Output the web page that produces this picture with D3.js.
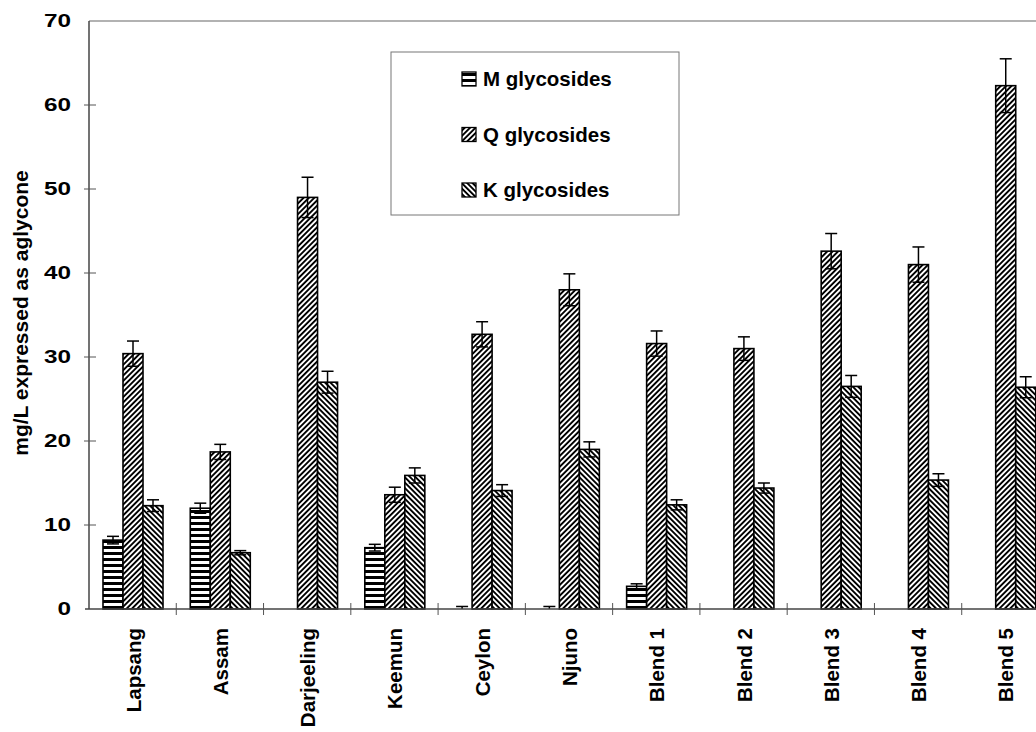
<!DOCTYPE html>
<html>
<head>
<meta charset="utf-8">
<script src="https://cdn.jsdelivr.net/npm/d3@7"></script>
<style>
  html, body { margin: 0; padding: 0; background: #fff; }
  svg { display: block; }
  text { font-family: "Liberation Sans", Arial, Helvetica, sans-serif; font-weight: bold; fill: #000; }
</style>
</head>
<body>
<svg id="chart" width="1036" height="732"></svg>
<script>
// ---- data ----
const categories = ["Lapsang", "Assam", "Darjeeling", "Keemun", "Ceylon", "Njuno",
                    "Blend 1", "Blend 2", "Blend 3", "Blend 4", "Blend 5"];
const seriesNames = ["M glycosides", "Q glycosides", "K glycosides"];
const mValues = [8.2, 12.0, 0, 7.3, 0, 0, 2.7, 0, 0, 0, 0];
const mErrors = [0.45, 0.6, 0, 0.4, 0.3, 0.3, 0.3, 0, 0, 0, 0];
const qValues = [30.4, 18.7, 49.0, 13.6, 32.7, 38.0, 31.6, 31.0, 42.6, 41.0, 62.3];
const qErrors = [1.5, 0.9, 2.4, 0.9, 1.5, 1.9, 1.5, 1.4, 2.1, 2.1, 3.2];
const kValues = [12.3, 6.7, 27.0, 15.9, 14.1, 19.0, 12.4, 14.4, 26.5, 15.35, 26.4];
const kErrors = [0.7, 0.25, 1.3, 0.9, 0.7, 0.9, 0.6, 0.6, 1.3, 0.75, 1.25];
const yTicks = [0, 10, 20, 30, 40, 50, 60, 70];
const yTitle = "mg/L expressed as aglycone";

const seriesValues = [mValues, qValues, kValues];
const seriesErrors = [mErrors, qErrors, kErrors];
const seriesPatterns = ["pat-m", "pat-q", "pat-k"];

// ---- layout ----
const svg = d3.select("#chart");
const pLeft = 89, pRight = 1049, pTop = 21, pBottom = 609;

const y = d3.scaleLinear().domain([0, 70]).range([pBottom, pTop]);
const x0 = d3.scaleBand().domain(categories).range([pLeft, pRight]).padding(0);
const x1 = d3.scaleBand().domain(seriesNames).range([14, 74]).padding(0);

// ---- patterns ----
const defs = svg.append("defs");
const pm = defs.append("pattern").attr("id", "pat-m").attr("patternUnits", "userSpaceOnUse")
  .attr("width", 8).attr("height", 6);
pm.append("rect").attr("width", 8).attr("height", 6).attr("fill", "#fff");
pm.append("rect").attr("y", 0).attr("width", 8).attr("height", 3).attr("fill", "#000");
const pq = defs.append("pattern").attr("id", "pat-q").attr("patternUnits", "userSpaceOnUse")
  .attr("width", 3.8).attr("height", 10).attr("patternTransform", "rotate(45)");
pq.append("rect").attr("width", 3.8).attr("height", 10).attr("fill", "#fff");
pq.append("rect").attr("width", 1.9).attr("height", 10).attr("fill", "#000");
const pk = defs.append("pattern").attr("id", "pat-k").attr("patternUnits", "userSpaceOnUse")
  .attr("width", 3.8).attr("height", 10).attr("patternTransform", "rotate(-45)");
pk.append("rect").attr("width", 3.8).attr("height", 10).attr("fill", "#fff");
pk.append("rect").attr("width", 1.9).attr("height", 10).attr("fill", "#000");

function stretch(sel, factor) {
  sel.each(function () {
    const len = this.getComputedTextLength();
    d3.select(this).attr("textLength", len * factor).attr("lengthAdjust", "spacingAndGlyphs");
  });
}

// ---- frame ----
svg.append("line").attr("x1", pLeft).attr("x2", pRight).attr("y1", pTop).attr("y2", pTop)
  .attr("stroke", "#666").attr("stroke-width", 1.2);

// ---- bars ----
const groups = svg.append("g").selectAll("g").data(categories).join("g")
  .attr("transform", d => `translate(${x0(d)},0)`);

seriesNames.forEach((s, si) => {
  groups.each(function (cat, ci) {
    const v = seriesValues[si][ci];
    if (v > 0) {
      d3.select(this).append("rect")
        .attr("x", x1(s)).attr("width", x1.bandwidth())
        .attr("y", y(v)).attr("height", y(0) - y(v))
        .attr("fill", `url(#${seriesPatterns[si]})`)
        .attr("stroke", "#000").attr("stroke-width", 1.6);
    }
  });
});

// ---- error bars ----
seriesNames.forEach((s, si) => {
  groups.each(function (cat, ci) {
    const v = seriesValues[si][ci], e = seriesErrors[si][ci];
    if (e <= 0) return;
    const cx = x1(s) + x1.bandwidth() / 2;
    const g = d3.select(this).append("g").attr("stroke", "#000").attr("stroke-width", 1.5);
    const lo = Math.max(0, v - e), hi = v + e;
    g.append("line").attr("x1", cx).attr("x2", cx).attr("y1", y(lo)).attr("y2", y(hi));
    g.append("line").attr("x1", cx - 6).attr("x2", cx + 6).attr("y1", y(hi)).attr("y2", y(hi));
    if (v - e > 0) g.append("line").attr("x1", cx - 6).attr("x2", cx + 6).attr("y1", y(lo)).attr("y2", y(lo));
  });
});

// ---- y axis ----
const yAxis = svg.append("g");
yAxis.append("line").attr("x1", pLeft).attr("x2", pLeft).attr("y1", pTop).attr("y2", pBottom)
  .attr("stroke", "#444").attr("stroke-width", 1.5);
yAxis.selectAll("line.tk").data(yTicks.filter(t => t > 0 && t < 70)).join("line").attr("class", "tk")
  .attr("x1", pLeft - 5).attr("x2", pLeft + 7).attr("y1", d => y(d)).attr("y2", d => y(d))
  .attr("stroke", "#555").attr("stroke-width", 1);
const yl = yAxis.selectAll("text").data(yTicks).join("text")
  .attr("x", 71).attr("y", d => y(d)).attr("dy", "0.36em")
  .attr("text-anchor", "end").style("font-size", "18px")
  .text(d => d);
stretch(yl, 1.35);

svg.append("text")
  .attr("transform", `translate(28,${(pBottom + pTop) / 2 - 2}) rotate(-90)`)
  .attr("text-anchor", "middle").style("font-size", "21px")
  .text(yTitle);

// ---- x axis ----
const xAxis = svg.append("g");
xAxis.append("line").attr("x1", pLeft - 4).attr("x2", pRight).attr("y1", pBottom).attr("y2", pBottom)
  .attr("stroke", "#444").attr("stroke-width", 1.5);
xAxis.selectAll("line.tk").data(categories.slice(1)).join("line").attr("class", "tk")
  .attr("x1", d => x0(d)).attr("x2", d => x0(d)).attr("y1", pBottom - 6).attr("y2", pBottom + 6)
  .attr("stroke", "#555").attr("stroke-width", 1);
xAxis.selectAll("text").data(categories).join("text")
  .attr("transform", d => `translate(${x0(d) + x0.bandwidth() / 2 + 8},628) rotate(-90)`)
  .attr("text-anchor", "end").style("font-size", "20.5px")
  .text(d => d);

// ---- legend ----
const legend = svg.append("g");
legend.append("rect").attr("x", 391).attr("y", 52).attr("width", 288).attr("height", 163)
  .attr("fill", "#fff").attr("stroke", "#777").attr("stroke-width", 1);
const li = legend.selectAll("g").data(seriesNames).join("g")
  .attr("transform", (d, i) => `translate(462,${79 + i * 55.5})`);
li.append("rect").attr("x", 0).attr("y", -7).attr("width", 14).attr("height", 14)
  .attr("fill", (d, i) => `url(#${seriesPatterns[i]})`).attr("stroke", "#000").attr("stroke-width", 1.3);
li.append("text").attr("x", 21).attr("y", 0).attr("dy", "0.36em").style("font-size", "20.5px")
  .text(d => d);
</script>
</body>
</html>
